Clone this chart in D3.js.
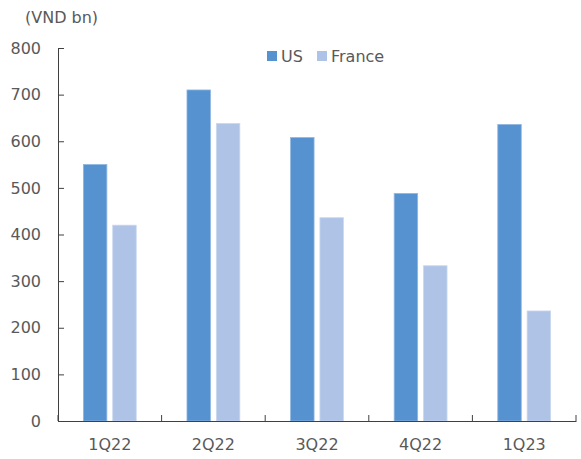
<!DOCTYPE html>
<html><head><meta charset="utf-8">
<script src="https://cdn.jsdelivr.net/npm/d3@7"></script>
<style>body{margin:0;background:#fff}svg{display:block}text{font-family:"DejaVu Sans",sans-serif;fill:#595959}</style>
</head><body><svg id="c" width="581" height="459"></svg>
<script>
const categories = ["1Q22","2Q22","3Q22","4Q22","1Q23"];
const series = ["US","France"];
const usValues = [550, 710, 608, 488, 636];
const franceValues = [420, 638, 436, 333, 236];
const yTicks = [0,100,200,300,400,500,600,700,800];
const unitLabel = "(VND bn)";
const colors = {US:"#5592cf", France:"#aec3e6"};
const strokes = {US:"#8fb6e2", France:"#c9d7ef"};

const svg = d3.select("#c");
const m = {l:58, r:5, t:48, b:38};
const W = 581, H = 459;
const x0 = d3.scaleBand().domain(categories).range([m.l, W - m.r]).padding(0);
const bw = x0.bandwidth();
const x1 = d3.scaleBand().domain(series).range([bw*0.245, bw*0.755]).paddingInner(0.2);
const y = d3.scaleLinear().domain([0,800]).range([H - m.b, m.t]);

const data = categories.map((c,i)=>({cat:c, US:usValues[i], France:franceValues[i]}));

const g = svg.append("g");
g.selectAll("g.grp").data(data).join("g").attr("class","grp")
 .attr("transform", d=>`translate(${x0(d.cat)},0)`)
 .selectAll("rect").data(d=>series.map(s=>({s, v:d[s]}))).join("rect")
 .attr("x", d=>x1(d.s)).attr("width", x1.bandwidth())
 .attr("y", d=>y(d.v)).attr("height", d=>y(0)-y(d.v))
 .attr("fill", d=>colors[d.s]).attr("stroke", d=>strokes[d.s]).attr("stroke-width",0.8);

// y axis
const ya = svg.append("g").attr("transform",`translate(${m.l},0)`)
 .call(d3.axisLeft(y).tickValues(yTicks).tickSizeInner(-6).tickSizeOuter(0).tickPadding(17));
ya.select(".domain").attr("stroke","#404040");
ya.selectAll(".tick line").attr("stroke","#404040");
ya.selectAll("text").style("font-size","16px").attr("fill","#595959");

// x axis
const xa = svg.append("g").attr("transform",`translate(0,${y(0)})`)
 .call(d3.axisBottom(x0).tickSize(0).tickPadding(18));
xa.select(".domain").attr("stroke","#404040");
xa.selectAll("text").style("font-size","16px").attr("fill","#595959");
const bounds = categories.map(c=>x0(c)).concat([x0.range()[1]]);
xa.selectAll("line.bt").data(bounds).join("line").attr("class","bt")
 .attr("x1",d=>d).attr("x2",d=>d).attr("y1",0).attr("y2",-6).attr("stroke","#404040");

// unit label
svg.append("text").attr("x",25).attr("y",23).style("font-size","16px").text(unitLabel);

// legend
const leg = svg.append("g");
const legX = [267, 317];
series.forEach((s,i)=>{
  leg.append("rect").attr("x",legX[i]).attr("y",51).attr("width",10).attr("height",10).attr("fill",colors[s]);
  leg.append("text").attr("x",legX[i]+14).attr("y",62).style("font-size","16px").text(s);
});
</script></body></html>
